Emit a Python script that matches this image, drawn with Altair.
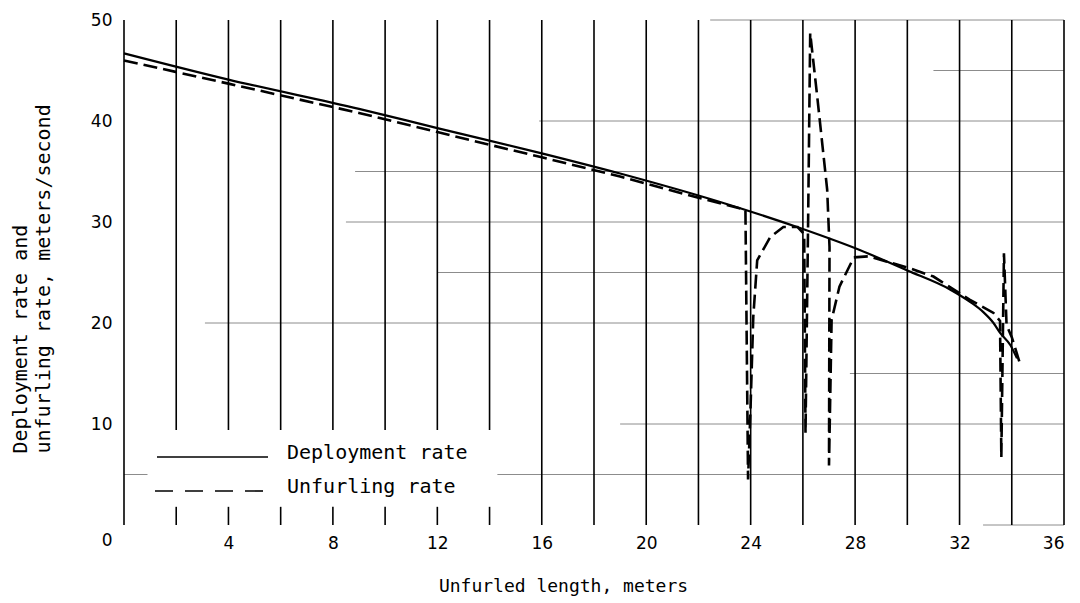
import altair as alt
import pandas as pd

# Deployment rate (solid)
dep_x = [0, 4, 9, 12, 16, 19, 22.8, 26, 28.2, 30, 31.65, 32.4, 32.9, 33.3, 33.56, 33.95, 34.2]
dep_y = [46.7, 44.1, 41.2, 39.3, 36.8, 34.8, 32.0, 29.3, 27.2, 25.2, 23.3, 22.1, 21.1, 20.0, 19.0, 17.8, 16.5]

# Unfurling rate (dashed)
unf_x = [0, 4, 9, 12, 16, 19, 22, 23.8, 23.9, 24.0, 24.1, 24.25, 24.75, 25.25, 25.8, 26.05,
         26.1, 26.2, 26.28, 26.55, 26.93, 27.02, 27.0, 27.1, 27.4, 27.95, 28.5, 30, 31,
         32.4, 33.3, 33.55, 33.6, 33.7, 33.8, 34.0, 34.3]
unf_y = [46.0, 43.7, 40.8, 38.9, 36.4, 34.5, 32.4, 31.2, 4.5, 12, 20.6, 26.2, 28.5, 29.5, 29.5, 28.8,
         9.1, 30, 48.7, 42.4, 33.2, 27.5, 5.9, 20.3, 23.6, 26.5, 26.6, 25.5, 24.6,
         22.3, 21.0, 20.2, 6.7, 26.9, 19.8, 18.6, 16.1]

# graph-paper structure
vgrid_x = list(range(0, 37, 2))
vgrid_lo = [0] + [9.4] * 7 + [0] * 11
vtick_x = [2, 4, 6, 8, 10, 12, 14]
hgrid_y = [50, 45, 40, 35, 30, 25, 20, 15, 10, 5, 5, 0]
hgrid_x0 = [22.45, 31.0, 15.9, 8.85, 8.5, 12.0, 3.1, 27.8, 19.0, 14.3, 0, 32.9]
hgrid_x1 = [36, 36, 36, 36, 36, 36, 36, 36, 36, 36, 0.9, 36]

x_ticks = [4, 8, 12, 16, 20, 24, 28, 32, 36]
y_ticks = [0, 10, 20, 30, 40, 50]

xs = alt.Scale(domain=[0, 36], nice=False, zero=False)
ys = alt.Scale(domain=[0, 50], nice=False, zero=False)

dep = pd.DataFrame({"x": dep_x, "y": dep_y, "i": range(len(dep_x))})
unf = pd.DataFrame({"x": unf_x, "y": unf_y, "i": range(len(unf_x))})
vg = pd.DataFrame({"x": vgrid_x, "y": vgrid_lo, "y2": [50] * len(vgrid_x)})
vt = pd.DataFrame({"x": vtick_x, "y": [0] * len(vtick_x), "y2": [1.8] * len(vtick_x)})
hg = pd.DataFrame({"x": hgrid_x0, "x2": hgrid_x1, "y": hgrid_y})

x_axis = alt.Axis(
    values=x_ticks, domain=False, ticks=False, grid=False,
    labelFont="DejaVu Sans", labelFontSize=17, labelColor="black",
    labelPadding=10,
    title="Unfurled length, meters", titleFont="DejaVu Sans Mono", titleFontSize=18,
    titleFontWeight="normal", titleColor="black", titleX=439, titleY=66,
    titleBaseline="alphabetic")
y_axis = alt.Axis(
    values=y_ticks, domain=False, ticks=False, grid=False,
    labelFont="DejaVu Sans", labelFontSize=17, labelColor="black",
    labelPadding=12,
    labelOffset={"condition": {"test": "datum.value === 0", "value": 15}, "value": 0},
    title=["Deployment rate and", "unfurling rate, meters/second"],
    titleFont="DejaVu Sans Mono", titleFontSize=20, titleFontWeight="normal",
    titleColor="black", titleAngle=270, titleAlign="left", titleBaseline="top",
    titleLineHeight=23, titleX=-114, titleY=433)

hgrid = alt.Chart(hg).mark_rule(color="#8c8c8c", strokeWidth=1).encode(
    x=alt.X("x:Q", scale=xs, axis=x_axis), x2="x2:Q",
    y=alt.Y("y:Q", scale=ys, axis=y_axis))
vgrid = alt.Chart(vg).mark_rule(color="black", strokeWidth=1.6).encode(
    x=alt.X("x:Q", scale=xs),
    y=alt.Y("y:Q", scale=ys), y2="y2:Q")
vticks = alt.Chart(vt).mark_rule(color="black", strokeWidth=1.6).encode(
    x=alt.X("x:Q", scale=xs),
    y=alt.Y("y:Q", scale=ys), y2="y2:Q")

dep_line = alt.Chart(dep).mark_line(color="black", strokeWidth=2.2, interpolate="monotone").encode(
    x=alt.X("x:Q", scale=xs),
    y=alt.Y("y:Q", scale=ys),
    order="i:Q")

unf_line = alt.Chart(unf).mark_line(color="black", strokeWidth=2.6, strokeDash=[14, 6]).encode(
    x=alt.X("x:Q", scale=xs),
    y=alt.Y("y:Q", scale=ys),
    order="i:Q")

one = pd.DataFrame({"a": [0]})
leg_solid = alt.Chart(one).mark_rule(color="black", strokeWidth=1.6).encode(
    x=alt.value(33), x2=alt.value(144), y=alt.value(437))
leg_dash = alt.Chart(one).mark_rule(color="black", strokeWidth=1.6, strokeDash=[18, 12]).encode(
    x=alt.value(31), x2=alt.value(144), y=alt.value(471))
leg_t1 = alt.Chart(pd.DataFrame({"t": ["Deployment rate"]})).mark_text(
    font="DejaVu Sans Mono", fontSize=20, align="left", baseline="alphabetic", color="black").encode(
    text="t:N", x=alt.value(163), y=alt.value(439))
leg_t2 = alt.Chart(pd.DataFrame({"t": ["Unfurling rate"]})).mark_text(
    font="DejaVu Sans Mono", fontSize=20, align="left", baseline="alphabetic", color="black").encode(
    text="t:N", x=alt.value(163), y=alt.value(473))

chart = alt.layer(hgrid, vgrid, vticks, unf_line, dep_line, leg_solid, leg_dash, leg_t1, leg_t2).properties(
    width=940, height=505,
    autosize=alt.AutoSizeParams(type="none"),
    padding={"left": 124, "top": 20, "right": 16, "bottom": 78},
    background="white",
).configure_view(stroke=None)

chart.save("out.html", embed_options={"renderer": "svg", "actions": False})
